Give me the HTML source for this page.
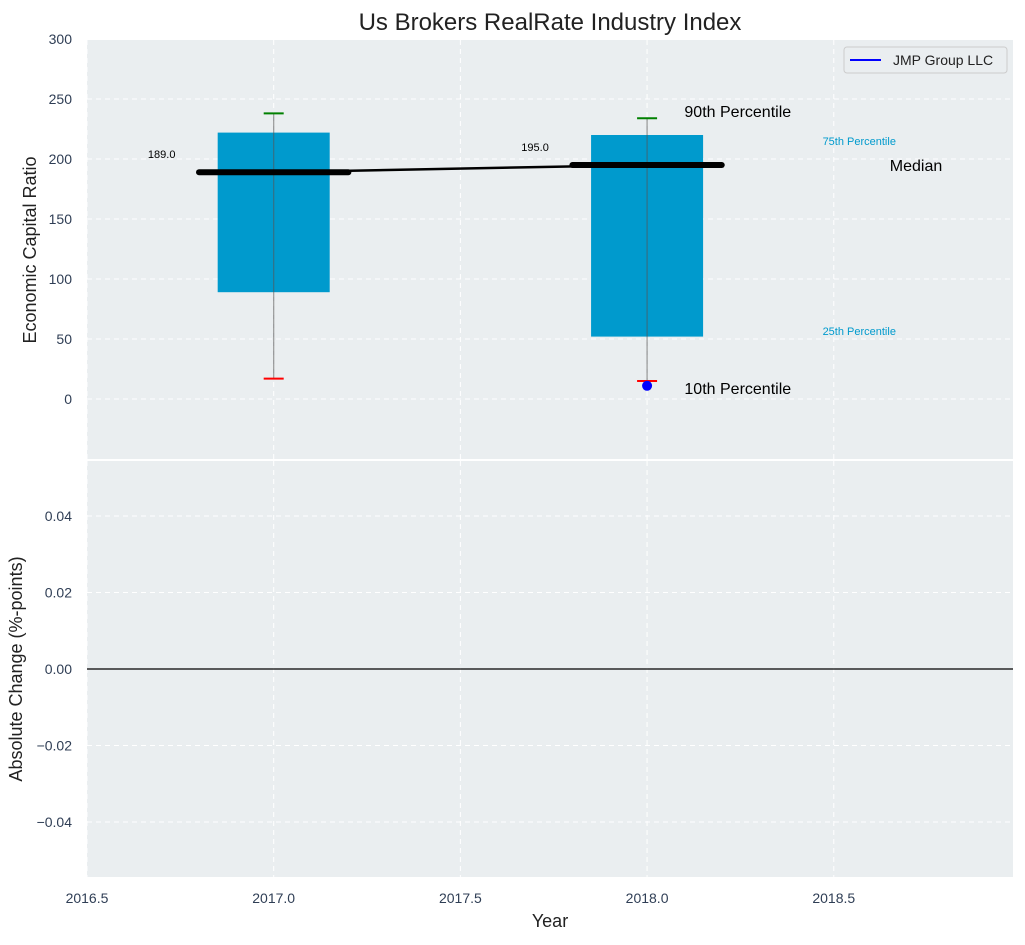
<!DOCTYPE html>
<html><head><meta charset="utf-8"><style>
body{margin:0;background:#fff;font-family:"Liberation Sans",sans-serif;}
svg text{font-family:"Liberation Sans",sans-serif;}
</style></head><body>
<svg id="chart" width="1025" height="940" xmlns="http://www.w3.org/2000/svg">
<text x="550" y="30" font-size="24" text-anchor="middle" fill="#222">Us Brokers RealRate Industry Index</text>
<g id="topPanel"></g>
<g id="botPanel"></g>
</svg>
<script>
const years = [2017, 2018];
const p10 = [17, 15];
const p25 = [89, 52];
const p75 = [222, 220];
const p90 = [238, 234];
const medians = [189, 195];
const companyValues = [null, 11];
const topTicks = [0, 50, 100, 150, 200, 250, 300];
const botTicks = [-0.04, -0.02, 0.00, 0.02, 0.04];
const xTicks = [2016.5, 2017.0, 2017.5, 2018.0, 2018.5];

const NS = "http://www.w3.org/2000/svg";
const L = 87, R = 1013;
const xs = v => L + (v - 2016.5) * (R - L) / (2018.98 - 2016.5);
const ys = v => 399 - v * 1.2;
const yb = v => 669 - v * 3825;
function mk(parent, tag, attrs, name, text) {
  const e = document.createElementNS(NS, tag);
  for (const k in attrs) e.setAttribute(k, attrs[k]);
  
  
  if (text !== undefined) e.textContent = text;
  parent.appendChild(e);
  return e;
}
const topG = document.getElementById('topPanel'), botG = document.getElementById('botPanel');
mk(topG, 'rect', {x: L, y: 40, width: R - L, height: 419, fill: '#eaeef0'}, 'top-plot-area');
mk(botG, 'rect', {x: L, y: 461, width: R - L, height: 416, fill: '#eaeef0'}, 'bottom-plot-area');
topTicks.forEach(t => {
  mk(topG, 'line', {x1: L, x2: R, y1: ys(t), y2: ys(t), stroke: '#fff', 'stroke-dasharray': '5,4', 'stroke-width': 1}, 'top-gridline');
  mk(topG, 'text', {x: 72, y: ys(t) + 5, 'font-size': 14, 'text-anchor': 'end', fill: '#2f3e55'}, 'y-tick-label', String(t));
});
botTicks.forEach(t => {
  mk(botG, 'line', {x1: L, x2: R, y1: yb(t), y2: yb(t), stroke: '#fff', 'stroke-dasharray': '5,4', 'stroke-width': 1}, 'bottom-gridline');
  mk(botG, 'text', {x: 72, y: yb(t) + 5, 'font-size': 14, 'text-anchor': 'end', fill: '#2f3e55'}, 'y2-tick-label', (t < 0 ? '\u2212' : '') + Math.abs(t).toFixed(2));
});
xTicks.forEach(t => {
  mk(topG, 'line', {x1: xs(t), x2: xs(t), y1: 40, y2: 459, stroke: '#fff', 'stroke-dasharray': '5,4'}, 'top-x-gridline');
  mk(botG, 'line', {x1: xs(t), x2: xs(t), y1: 461, y2: 877, stroke: '#fff', 'stroke-dasharray': '5,4'}, 'bottom-x-gridline');
  mk(botG, 'text', {x: xs(t), y: 903, 'font-size': 14, 'text-anchor': 'middle', fill: '#2f3e55'}, 'x-tick-label', t.toFixed(1));
});
mk(botG, 'line', {x1: L, x2: R, y1: yb(0), y2: yb(0), stroke: '#000', 'stroke-width': 1.2}, 'zero-line');
years.forEach((yr, i) => {
  const bw = 0.3;
  mk(topG, 'rect', {x: xs(yr - bw / 2), y: ys(p75[i]), width: xs(yr + bw / 2) - xs(yr - bw / 2), height: ys(p25[i]) - ys(p75[i]), fill: '#009acd'}, 'iqr-box-' + yr);
  mk(topG, 'line', {x1: xs(yr), x2: xs(yr), y1: ys(p90[i]), y2: ys(p10[i]), stroke: '#555', 'stroke-opacity': 0.6, 'stroke-width': 1.2}, 'whisker-' + yr);
  mk(topG, 'line', {x1: xs(yr) - 10, x2: xs(yr) + 10, y1: ys(p90[i]), y2: ys(p90[i]), stroke: 'green', 'stroke-width': 2}, 'p90-cap-' + yr);
  mk(topG, 'line', {x1: xs(yr) - 10, x2: xs(yr) + 10, y1: ys(p10[i]), y2: ys(p10[i]), stroke: 'red', 'stroke-width': 2}, 'p10-cap-' + yr);
});
let pts = years.map((yr, i) => xs(yr) + ',' + ys(medians[i])).join(' ');
mk(topG, 'polyline', {points: pts, fill: 'none', stroke: '#000', 'stroke-width': 2.5}, 'median-trend-line');
years.forEach((yr, i) => {
  mk(topG, 'line', {x1: xs(yr - 0.2), x2: xs(yr + 0.2), y1: ys(medians[i]), y2: ys(medians[i]), stroke: '#000', 'stroke-width': 6, 'stroke-linecap': 'round'}, 'median-bar-' + yr);
  mk(topG, 'text', {x: xs(yr - 0.3), y: ys(medians[i]) - 14, 'font-size': 11, 'text-anchor': 'middle', fill: '#000'}, 'median-label-' + yr, medians[i].toFixed(1));
  if (companyValues[i] !== null) mk(topG, 'circle', {cx: xs(yr), cy: ys(companyValues[i]), r: 5, fill: 'blue'}, 'company-point-' + yr);
});
const ly = years[years.length - 1];
mk(topG, 'text', {x: xs(ly + 0.1), y: 117, 'font-size': 16, fill: '#000'}, 'p90-annotation', '90th Percentile');
mk(topG, 'text', {x: xs(ly + 0.1), y: 394, 'font-size': 16, fill: '#000'}, 'p10-annotation', '10th Percentile');
mk(topG, 'text', {x: xs(ly + 0.47), y: 145, 'font-size': 11, fill: '#009acd'}, 'p75-annotation', '75th Percentile');
mk(topG, 'text', {x: xs(ly + 0.47), y: 335, 'font-size': 11, fill: '#009acd'}, 'p25-annotation', '25th Percentile');
mk(topG, 'text', {x: xs(ly + 0.65), y: 171, 'font-size': 16, fill: '#000'}, 'median-annotation', 'Median');
mk(topG, 'rect', {x: 844, y: 47, width: 163, height: 26, rx: 3, fill: '#eaeef0', stroke: '#ccc'}, 'legend-box');
mk(topG, 'line', {x1: 850, x2: 881, y1: 60, y2: 60, stroke: 'blue', 'stroke-width': 2}, 'legend-swatch');
mk(topG, 'text', {x: 893, y: 65, 'font-size': 14, fill: '#222'}, 'legend-label', 'JMP Group LLC');
mk(topG, 'text', {x: 36, y: 250, 'font-size': 18, 'text-anchor': 'middle', fill: '#222', transform: 'rotate(-90 36 250)'}, 'y-axis-title', 'Economic Capital Ratio');
mk(botG, 'text', {x: 22, y: 669, 'font-size': 18, 'text-anchor': 'middle', fill: '#222', transform: 'rotate(-90 22 669)'}, 'y2-axis-title', 'Absolute Change (%-points)');
mk(botG, 'text', {x: 550, y: 927, 'font-size': 18, 'text-anchor': 'middle', fill: '#222'}, 'x-axis-title', 'Year');
</script>
</body></html>
